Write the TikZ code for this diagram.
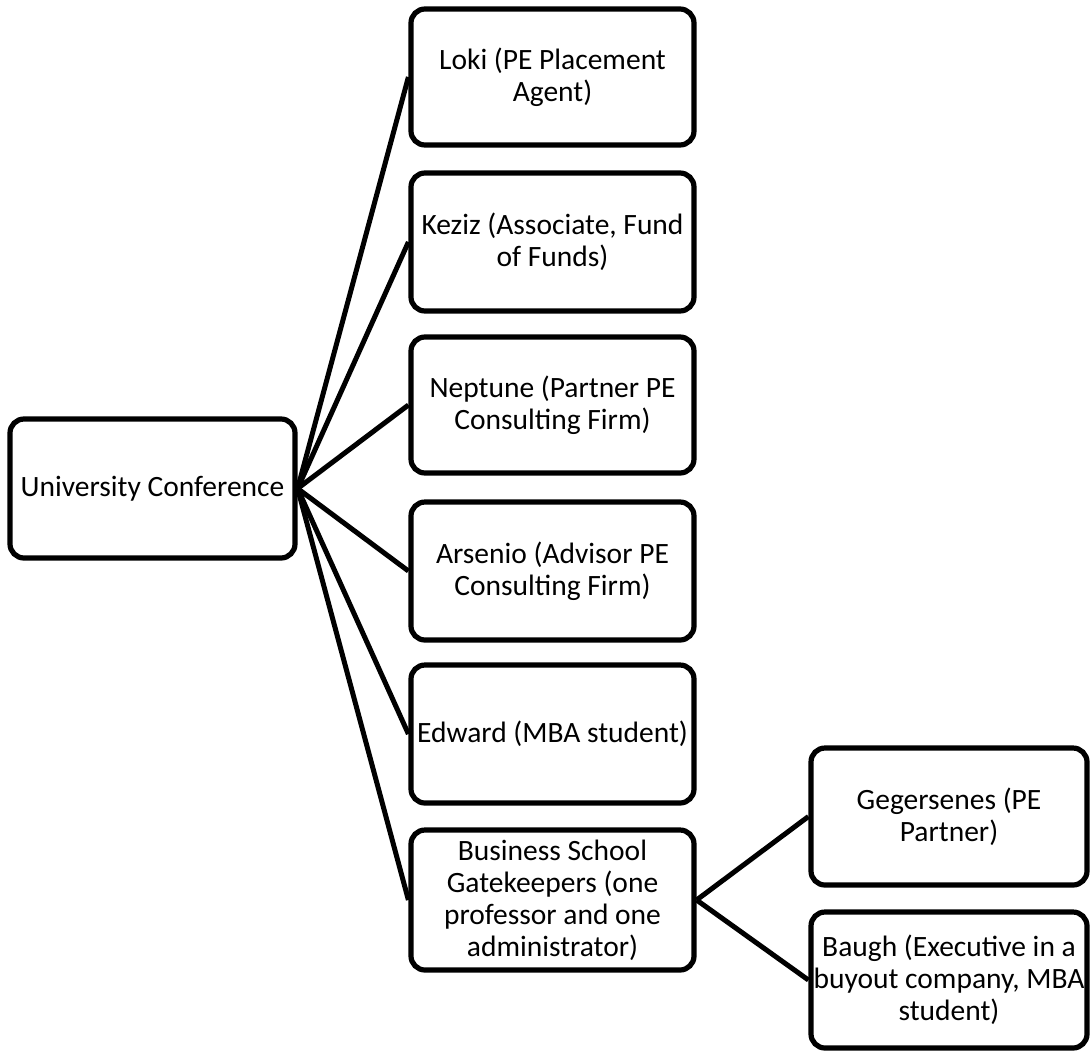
\documentclass[tikz,border=0pt]{standalone}
\usepackage{fontspec}
\setmainfont{Carlito}
\begin{document}
\begin{tikzpicture}[x=1pt,y=-1pt,
  box/.style={draw, line width=5.2pt, rounded corners=14pt, align=center,
    font=\fontsize{29.5}{32}\selectfont, inner sep=0pt},
  link/.style={line width=5pt}]
\useasboundingbox (0,0) rectangle (1091,1053);

% root
\node[box, minimum width=285pt, minimum height=139pt] (root) at (152.5,488.5) {University Conference};

% first tier
\node[box, minimum width=283pt, minimum height=136pt] (loki) at (552.5,77) {Loki (PE Placement\\Agent)};
\node[box, minimum width=283pt, minimum height=138pt] (keziz) at (552.5,242) {Keziz (Associate, Fund\\of Funds)};
\node[box, minimum width=283pt, minimum height=136pt] (neptune) at (552.5,405) {Neptune (Partner PE\\Consulting Firm)};
\node[box, minimum width=283pt, minimum height=138pt] (arsenio) at (552.5,571) {Arsenio (Advisor PE\\Consulting Firm)};
\node[box, minimum width=283pt, minimum height=138pt] (edward) at (552.5,734) {Edward (MBA student)};
\node[box, minimum width=283pt, minimum height=140pt] (gate) at (552.5,900) {Business School\\Gatekeepers (one\\professor and one\\administrator)};

% second tier
\node[box, minimum width=276pt, minimum height=137pt] (geg) at (949,816.5) {Gegersenes (PE\\Partner)};
\node[box, minimum width=276pt, minimum height=136pt] (baugh) at (949,980) {Baugh (Executive in a\\buyout company, MBA\\student)};

% connectors
\foreach \n in {loki,keziz,neptune,arsenio,edward,gate}
  \draw[link] (root.east) -- (\n.west);
\draw[link] (gate.east) -- (geg.west);
\draw[link] (gate.east) -- (baugh.west);
\end{tikzpicture}
\end{document}
